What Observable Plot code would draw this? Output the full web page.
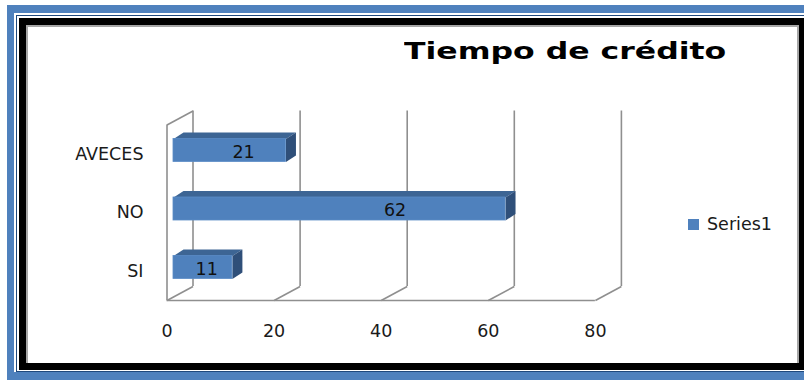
<!DOCTYPE html>
<html><head><meta charset="utf-8">
<script src="https://cdn.jsdelivr.net/npm/d3@7"></script>
<script src="https://cdn.jsdelivr.net/npm/@observablehq/plot@0.6"></script>
<style>
html,body{margin:0;padding:0;background:#fff;}
body{width:804px;height:380px;position:relative;overflow:hidden;font-family:"DejaVu Sans",sans-serif;}
.abs{position:absolute;box-sizing:border-box;}
#blue{left:7px;top:5px;width:820px;height:400px;background:#4f81bd;}
#w1{left:14px;top:13px;width:820px;height:359px;background:#fff;}
#db{left:16px;top:15px;width:820px;height:357px;border:1px solid #1f497d;}
#blk{left:19px;top:18px;width:820px;height:352px;background:#000;}
#panel{left:26px;top:25px;width:773px;height:338px;background:#fff;border-left:2px solid #a6a6a6;border-top:2px solid #a6a6a6;border-right:2px solid #a6a6a6;}
#title{left:404px;top:40px;font-weight:bold;font-size:23px;line-height:23px;white-space:nowrap;color:#000;transform:scaleX(1.37);transform-origin:0 0;}
#sw{left:688px;top:219px;width:11px;height:11px;background:#4f81bd;}
#lg{left:707px;top:216px;font-size:17.5px;line-height:17.5px;white-space:nowrap;color:#1a1a1a;}
#chart{left:0;top:0;}
</style>
</head><body>
<div class="abs" id="blue"></div>
<div class="abs" id="w1"></div>
<div class="abs" id="db"></div>
<div class="abs" id="blk"></div>
<div class="abs" id="panel"></div>
<div class="abs" id="chart"></div>
<div class="abs" id="title"></div>
<div class="abs" id="sw"></div>
<div class="abs" id="lg"></div>
<script>
const title = "Tiempo de crédito";
const seriesName = "Series1";
const categories = ["AVECES", "NO", "SI"];
const values = [21, 62, 11];
const xTicks = [0, 20, 40, 60, 80];

document.getElementById("title").textContent = title;
document.getElementById("lg").textContent = seriesName;

const n = categories.length;
const data = categories.map((c, i) => ({category: c, value: values[i], pos: n - 1 - i + 0.5}));

const W = 804, H = 380, mL = 166.5, mR = 209.1, mT = 124.5, mB = 80;
const xMax = 80;
const kx = (W - mL - mR) / xMax;   // px per x unit
const ky = (H - mT - mB) / n;      // px per category slot

const wallColor = "#8f8f8f";
const barFront = "#4f81bd", barTop = "#3d6594", barSide = "#2f4f79";
// 3D geometry (pixels)
const backDx = 26, backDy = -14;
const barDx = 6.5, barDy = -3.75;
const depthPxX = 10, depthPxY = 6.5;
const barPx = 23;

const bh = barPx / ky;
const ddx = depthPxX / kx, ddy = depthPxY / ky;

const topFaces = [], sideFaces = [];
data.forEach((d, i) => {
  const t = d.pos + bh / 2, b = d.pos - bh / 2;
  topFaces.push({id: i, x: 0, y: t}, {id: i, x: d.value, y: t}, {id: i, x: d.value + ddx, y: t + ddy}, {id: i, x: ddx, y: t + ddy});
  sideFaces.push({id: i, x: d.value, y: t}, {id: i, x: d.value, y: b}, {id: i, x: d.value + ddx, y: b + ddy}, {id: i, x: d.value + ddx, y: t + ddy});
});

const chart = Plot.plot({
  width: W, height: H,
  marginLeft: mL, marginRight: mR, marginTop: mT, marginBottom: mB,
  style: {background: "transparent", fontFamily: "DejaVu Sans, sans-serif", fontSize: "17.5px", color: "#1a1a1a", overflow: "visible"},
  x: {domain: [0, xMax], ticks: xTicks, tickSize: 0, tickPadding: 24, label: null},
  y: {domain: [0, n], ticks: data.map(d => d.pos), tickFormat: p => (data.find(d => d.pos === p) || {}).category, tickSize: 0, tickPadding: 23.5, label: null},
  marks: [
    // back wall gridlines
    Plot.ruleX(xTicks, {x: d => d, y1: d => 0, y2: d => n, dx: backDx, dy: backDy, stroke: wallColor, strokeWidth: 1.6}),
    // floor slants
    Plot.link(xTicks, {x1: d => d, y1: d => 0, x2: d => d + backDx / kx, y2: d => -backDy / ky, stroke: wallColor, strokeWidth: 1.6}),
    // left wall front edge + top slant
    Plot.ruleX([0], {x: d => d, y1: d => 0, y2: d => n, stroke: wallColor, strokeWidth: 1.6}),
    Plot.link([0], {x1: d => d, y1: d => n, x2: d => d + backDx / kx, y2: d => n - backDy / ky, stroke: wallColor, strokeWidth: 1.6}),
    // floor front edge
    Plot.ruleY([0], {y: d => d, x1: d => 0, x2: d => xMax, stroke: wallColor, strokeWidth: 1.6}),
    // bars
    Plot.line(topFaces, {x: "x", y: "y", z: "id", fill: barTop, stroke: "none", dx: barDx, dy: barDy}),
    Plot.line(sideFaces, {x: "x", y: "y", z: "id", fill: barSide, stroke: "none", dx: barDx, dy: barDy}),
    Plot.rectX(data, {x1: d => 0, x2: "value", y1: d => d.pos - bh / 2, y2: d => d.pos + bh / 2, dx: barDx, dy: barDy, fill: barFront, stroke: "#5b8cc6", strokeWidth: 0.8}),
    Plot.text(data, {x: d => d.value * 0.69 - 1.4, y: "pos", text: d => String(d.value), dx: barDx, dy: -2.3, fill: "#111"})
  ]
});
document.getElementById("chart").appendChild(chart);
</script>
</body></html>
